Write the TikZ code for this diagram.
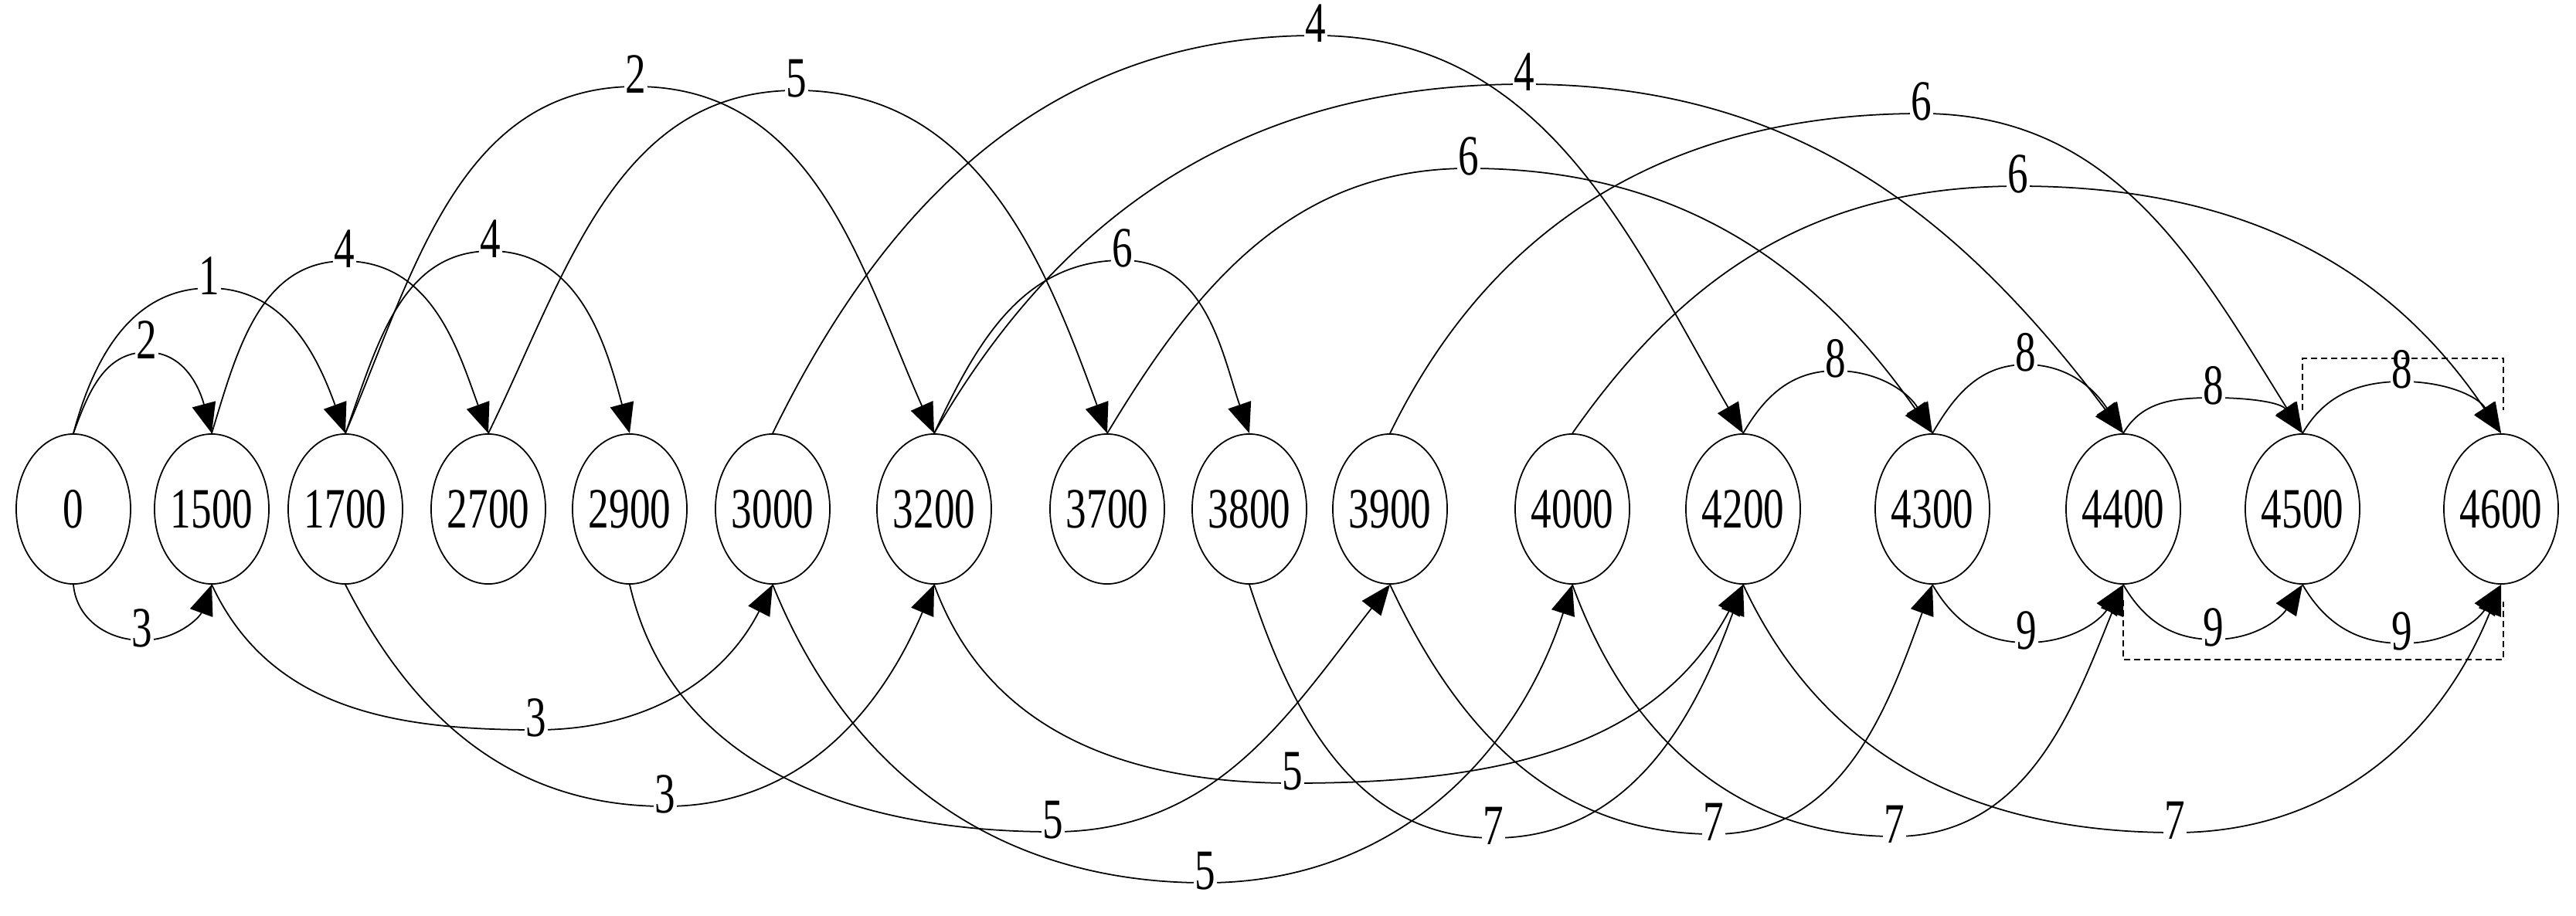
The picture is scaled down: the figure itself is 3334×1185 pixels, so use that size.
\documentclass[tikz,border=0pt]{standalone}
\usepackage{fontspec}
\setmainfont{Liberation Serif}[FakeStretch=0.72]
\usetikzlibrary{arrows.meta,shapes.geometric,calc}
\begin{document}
\begin{tikzpicture}[x=0.01cm,y=0.01cm,
  state/.style={draw, ellipse, line width=0.5pt, minimum width=1.48cm, minimum height=1.94cm, inner sep=0pt, font=\fontsize{21}{25}\selectfont},
  lab/.style={fill=white, inner xsep=0.6pt, inner ysep=0.6pt, text height=0.7em, text depth=0.22em, font=\fontsize{21}{25}\selectfont},
  conn/.style={line width=0.5pt, -{Triangle[length=0.39cm,width=0.31cm]}},
  dashbr/.style={line width=0.5pt, dash pattern=on 0.08cm off 0.05cm}
]
\useasboundingbox (0,0) rectangle (3334,-1185);
% nodes
\node[state] (n0)    at (95,-659)   {\makebox[0pt]{0}};
\node[state] (n1500) at (274,-659)  {\makebox[0pt]{1500}};
\node[state] (n1700) at (447,-659)  {\makebox[0pt]{1700}};
\node[state] (n2700) at (632,-659)  {\makebox[0pt]{2700}};
\node[state] (n2900) at (815,-659)  {\makebox[0pt]{2900}};
\node[state] (n3000) at (1000,-659) {\makebox[0pt]{3000}};
\node[state] (n3200) at (1209,-659) {\makebox[0pt]{3200}};
\node[state] (n3700) at (1433,-659) {\makebox[0pt]{3700}};
\node[state] (n3800) at (1617,-659) {\makebox[0pt]{3800}};
\node[state] (n3900) at (1799,-659) {\makebox[0pt]{3900}};
\node[state] (n4000) at (2035,-659) {\makebox[0pt]{4000}};
\node[state] (n4200) at (2256,-659) {\makebox[0pt]{4200}};
\node[state] (n4300) at (2501,-659) {\makebox[0pt]{4300}};
\node[state] (n4400) at (2748,-659) {\makebox[0pt]{4400}};
\node[state] (n4500) at (2980,-659) {\makebox[0pt]{4500}};
\node[state] (n4600) at (3237,-659) {\makebox[0pt]{4600}};
% label positions (top)
\coordinate (t1)  at (190,-456);
\coordinate (t2)  at (271,-373);
\coordinate (t3)  at (446,-338);
\coordinate (t4)  at (635,-325);
\coordinate (t5)  at (823,-112);
\coordinate (t6)  at (1031,-117);
\coordinate (t7)  at (1703,-46);
\coordinate (t8)  at (1973,-109);
\coordinate (t9)  at (1453,-337);
\coordinate (t10) at (1901,-218);
\coordinate (t11) at (2487,-147);
\coordinate (t12) at (2612,-241);
\coordinate (t13) at (2376,-480);
\coordinate (t14) at (2622,-472);
\coordinate (t15) at (2865,-515);
\coordinate (t16) at (3109,-494);
% label positions (bottom)
\coordinate (b1)  at (184,-829);
\coordinate (b2)  at (694,-945);
\coordinate (b3)  at (861,-1044);
\coordinate (b4)  at (1363,-1077);
\coordinate (b5)  at (1560,-1143);
\coordinate (b6)  at (1673,-1014);
\coordinate (b7)  at (1933,-1085);
\coordinate (b8)  at (2218,-1080);
\coordinate (b9)  at (2452,-1083);
\coordinate (b10) at (2815,-1078);
\coordinate (b11) at (2623,-832);
\coordinate (b12) at (2865,-828);
\coordinate (b13) at (3109,-833);
% top connectors
\draw[conn] (n0.north)    to[out=70,in=180] (t1)  to[out=0,in=105] (n1500.north);
\draw[conn] (n0.north)    to[out=75,in=180] (t2)  to[out=0,in=110] (n1700.north);
\draw[conn] (n1500.north) to[out=73,in=180] (t3)  to[out=0,in=110] (n2700.north);
\draw[conn] (n1700.north) to[out=70,in=180] (t4)  to[out=0,in=105] (n2900.north);
\draw[conn] (n1700.north) to[out=67,in=180] (t5)  to[out=0,in=114] (n3200.north);
\draw[conn] (n2700.north) to[out=64,in=180] (t6)  to[out=0,in=110] (n3700.north);
\draw[conn] (n3000.north) to[out=64,in=180] (t7)  to[out=0,in=120] (n4200.north);
\draw[conn] (n3200.north) to[out=60,in=180] (t8)  to[out=0,in=127] (n4400.north);
\draw[conn] (n3200.north) to[out=65,in=180] (t9)  to[out=0,in=109] (n3800.north);
\draw[conn] (n3700.north) to[out=59,in=180] (t10) to[out=0,in=125] (n4300.north);
\draw[conn] (n3900.north) to[out=64,in=180] (t11) to[out=0,in=122] (n4500.north);
\draw[conn] (n4000.north) to[out=55,in=180] (t12) to[out=0,in=124] (n4600.north);
\draw[conn] (n4200.north) to[out=60,in=180] (t13) to[out=0,in=120] (n4300.north);
\draw[conn] (n4300.north) to[out=60,in=180] (t14) to[out=0,in=123] (n4400.north);
\draw[conn] (n4400.north) to[out=60,in=180] (t15) to[out=0,in=125] (n4500.north);
\draw[conn] (n4500.north) to[out=60,in=180] (t16) to[out=0,in=122] (n4600.north);
% bottom connectors
\draw[conn] (n0.south)    to[out=-85,in=180] (b1)  to[out=0,in=-110] (n1500.south);
\draw[conn] (n1500.south) to[out=-65,in=180] (b2)  to[out=0,in=-117] (n3000.south);
\draw[conn] (n1700.south) to[out=-63,in=180] (b3)  to[out=0,in=-113] (n3200.south);
\draw[conn] (n2900.south) to[out=-77,in=180] (b4)  to[out=0,in=-128] (n3900.south);
\draw[conn] (n3000.south) to[out=-68,in=180] (b5)  to[out=0,in=-108] (n4000.south);
\draw[conn] (n3200.south) to[out=-70,in=180] (b6)  to[out=0,in=-118] (n4200.south);
\draw[conn] (n3800.south) to[out=-72,in=180] (b7)  to[out=0,in=-110] (n4200.south);
\draw[conn] (n3900.south) to[out=-65,in=180] (b8)  to[out=0,in=-110] (n4300.south);
\draw[conn] (n4000.south) to[out=-70,in=180] (b9)  to[out=0,in=-112] (n4400.south);
\draw[conn] (n4200.south) to[out=-65,in=180] (b10) to[out=0,in=-112] (n4600.south);
\draw[conn] (n4300.south) to[out=-60,in=180] (b11) to[out=0,in=-123] (n4400.south);
\draw[conn] (n4400.south) to[out=-60,in=180] (b12) to[out=0,in=-123] (n4500.south);
\draw[conn] (n4500.south) to[out=-60,in=180] (b13) to[out=0,in=-123] (n4600.south);
% labels
\node[lab] (lt1)  at (t1)  {2};
\node[lab] (lt2)  at (t2)  {1};
\node[lab] (lt3)  at (t3)  {4};
\node[lab] (lt4)  at (t4)  {4};
\node[lab] (lt5)  at (t5)  {2};
\node[lab] (lt6)  at (t6)  {5};
\node[lab] (lt7)  at (t7)  {4};
\node[lab] (lt8)  at (t8)  {4};
\node[lab] (lt9)  at (t9)  {6};
\node[lab] (lt10) at (t10) {6};
\node[lab] (lt11) at (t11) {6};
\node[lab] (lt12) at (t12) {6};
\node[lab] (lt13) at (t13) {8};
\node[lab] (lt14) at (t14) {8};
\node[lab] (lt15) at (t15) {8};
\node[lab] (lt16) at (t16) {8};
\node[lab] (lb1)  at (b1)  {3};
\node[lab] (lb2)  at (b2)  {3};
\node[lab] (lb3)  at (b3)  {3};
\node[lab] (lb4)  at (b4)  {5};
\node[lab] (lb5)  at (b5)  {5};
\node[lab] (lb6)  at (b6)  {5};
\node[lab] (lb7)  at (b7)  {7};
\node[lab] (lb8)  at (b8)  {7};
\node[lab] (lb9)  at (b9)  {7};
\node[lab] (lb10) at (b10) {7};
\node[lab] (lb11) at (b11) {9};
\node[lab] (lb12) at (b12) {9};
\node[lab] (lb13) at (b13) {9};
% dashed brackets
\draw[dashbr] ($(n4500.north)+(0,30)$) -- ($(n4500.north)+(0,97)$) -| ($(n4600.north)+(3,30)$);
\draw[dashbr] ($(n4400.south)+(0,-20)$) -- ($(n4400.south)+(0,-97)$) -| ($(n4600.south)+(3,-22)$);
\end{tikzpicture}
\end{document}
